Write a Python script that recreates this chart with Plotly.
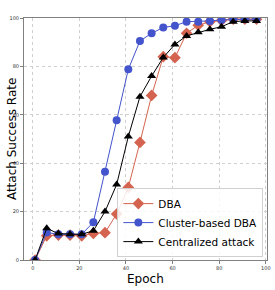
import plotly.graph_objects as go

epochs = [1, 6, 11, 16, 21, 26, 31, 36, 41, 46, 51, 56, 61, 66, 71, 76, 81, 86, 91, 96]
dba = [0, 10.0, 10.3, 10.3, 10.0, 11.0, 11.3, 19.0, 30.0, 48.6, 68.0, 84.0, 83.6, 93.7, 97.0, 98.5, 99.0, 99.5, 99.5, 99.5]
cluster_dba = [0, 11.4, 10.6, 10.6, 10.6, 15.6, 36.5, 57.7, 78.8, 90.5, 93.7, 96.1, 96.8, 98.5, 98.5, 98.8, 99.2, 99.5, 99.5, 99.5]
centralized = [0, 13.1, 10.9, 10.6, 10.6, 12.1, 20.0, 31.2, 51.0, 67.5, 76.0, 83.7, 89.1, 92.6, 94.1, 95.3, 96.4, 98.5, 98.8, 98.8]
x_ticks = [0, 20, 40, 60, 80, 100]
y_ticks = [0, 20, 40, 60, 80, 100]

fig = go.Figure()
fig.add_trace(go.Scatter(x=epochs, y=dba, name="DBA", mode="lines+markers",
                         line=dict(color="#d4644f", width=1),
                         marker=dict(symbol="diamond", size=9, color="#d4644f")))
fig.add_trace(go.Scatter(x=epochs, y=cluster_dba, name="Cluster-based DBA", mode="lines+markers",
                         line=dict(color="#4454cc", width=1),
                         marker=dict(symbol="circle", size=8, color="#4454cc")))
fig.add_trace(go.Scatter(x=epochs, y=centralized, name="Centralized attack", mode="lines+markers",
                         line=dict(color="black", width=1),
                         marker=dict(symbol="triangle-up", size=8, color="black")))

axis_common = dict(showgrid=True, gridcolor="#d0d0d0", griddash="dot", gridwidth=1,
                   showline=True, linecolor="#808080", linewidth=1, mirror=True,
                   ticks="outside", ticklen=3, tickcolor="#808080", zeroline=False,
                   automargin=False,
                   tickfont=dict(size=5, family="DejaVu Sans", color="#333"))

fig.update_layout(
    width=275, height=290,
    margin=dict(l=24, r=8, t=18, b=30),
    paper_bgcolor="white", plot_bgcolor="white",
    font=dict(family="DejaVu Sans", color="black"),
    xaxis=dict(range=[-3.75, 100.5], tickvals=x_ticks, **axis_common),
    yaxis=dict(range=[0, 100], tickvals=y_ticks, **axis_common),
    legend=dict(x=0.985, y=0.012, xanchor="right", yanchor="bottom",
                bgcolor="rgba(255,255,255,0.85)", bordercolor="#d0d0d0", borderwidth=1,
                font=dict(size=10.5), tracegroupgap=0, itemwidth=30),
    showlegend=True,
    annotations=[
        dict(text="Epoch", xref="paper", yref="paper", x=0.5, y=-0.042,
             xanchor="center", yanchor="top", showarrow=False, font=dict(size=12)),
        dict(text="Attach Success Rate", xref="paper", yref="paper", x=-0.049, y=0.5,
             xanchor="center", yanchor="middle", textangle=-90, showarrow=False,
             font=dict(size=12)),
    ],
)

fig.write_html("out.html", config={"displayModeBar": False},
               post_script="document.body.style.margin='0';")
